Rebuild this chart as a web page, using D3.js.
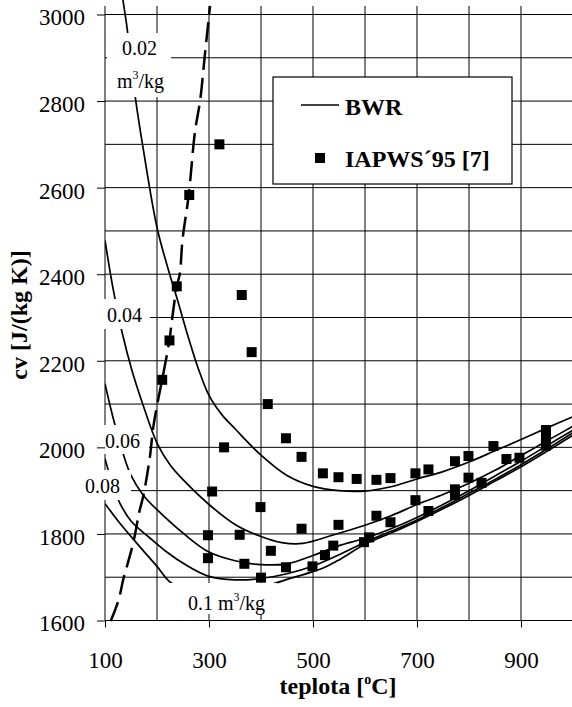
<!DOCTYPE html>
<html>
<head>
<meta charset="utf-8">
<script src="https://cdn.jsdelivr.net/npm/d3@7"></script>
<style>
  body { margin: 0; background: #fff; }
  svg { display: block; }
</style>
</head>
<body>
<script>
// tick values
var xTicks = [100, 300, 500, 700, 900];
var yTicks = [1600, 1800, 2000, 2200, 2400, 2600, 2800, 3000];

// BWR curves, [teplota, cv] for each specific volume
var bwr002 = [[130,3075],[135,3030],[142,2973],[150,2890],[158,2811],[174,2686],[200,2508],[220,2418],[240,2338],
  [260,2255],[280,2180],[300,2120],[325,2075],[350,2043],[400,1982],[450,1935],[500,1910],[550,1900],[600,1899],
  [650,1909],[700,1927],[750,1944],[800,1966],[850,1992],[900,2018],[950,2045],[1000,2071]];
var bwr004 = [[100,2478],[115,2370],[132,2270],[152,2177],[174,2095],[200,2010],[225,1960],[252,1923],[300,1868],
  [350,1822],[400,1794],[440,1780],[480,1778],[540,1798],[600,1820],[650,1842],[700,1868],[750,1891],[800,1917],
  [850,1947],[900,1981],[950,2015],[1000,2049]];
var bwr006 = [[100,2147],[110,2095],[120,2048],[135,1985],[150,1935],[174,1889],[200,1856],[252,1800],[300,1758],
  [350,1738],[400,1729],[450,1731],[500,1750],[550,1773],[600,1790],[650,1812],[700,1838],[750,1868],[800,1900],
  [850,1934],[900,1968],[950,2004],[1000,2040]];
var bwr008 = [[100,1974],[110,1932],[120,1897],[129,1870],[150,1830],[187,1790],[220,1757],[252,1731],[300,1702],
  [350,1694],[400,1697],[450,1708],[500,1726],[550,1752],[600,1781],[650,1806],[700,1832],[750,1862],[800,1894],
  [850,1926],[900,1960],[950,1996],[1000,2034]];
var bwr010 = [[100,1870],[129,1824],[168,1769],[200,1725],[226,1688],[260,1670],[300,1662],[340,1663],[380,1670],
  [432,1688],[450,1695],[500,1713],[523,1723],[550,1740],[600,1776],[650,1802],[700,1829],[750,1858],[800,1889],
  [850,1922],[900,1955],[950,1991],[1000,2028]];

// saturation boundary (dashed)
var saturace = [[111,1599],[126,1647],[135,1694],[154,1778],[166,1851],[174,1890],[186,1975],[193,2048],[202,2109],
  [210,2157],[224,2248],[228,2287],[238,2371],[244,2402],[249,2479],[261,2583],[273,2729],[283,2802],[292,2906],[302,3020]];

// IAPWS'95 [7] points
var iapws = [[210,2156],[224,2247],[238,2372],[262,2583],[320,2700],
  [363,2352],[382,2220],[413,2100],[448,2021],[478,1978],[519,1940],[549,1931],[584,1927],[622,1925],[649,1929],
  [697,1940],[722,1949],[773,1968],[799,1980],[847,2003],[872,1973],[897,1976],
  [948,2040],[948,2025],[948,2012],[948,2004],
  [329,2000],[306,1898],[399,1862],[298,1797],[359,1798],[419,1761],[298,1744],[368,1731],[400,1699],[448,1723],
  [478,1812],[549,1821],[622,1842],[649,1827],[697,1878],[722,1853],[773,1903],[773,1890],[799,1930],[824,1918],
  [499,1725],[523,1751],[539,1773],[598,1781],[608,1792]];

var FONT = "'Liberation Serif','Times New Roman',Times,serif";

var svg = d3.select("body").append("svg")
  .attr("width", 572)
  .attr("height", 707);

var x = d3.scaleLinear().domain([100, 1000]).range([105, 573]);
var y = d3.scaleLinear().domain([1600, 3000]).range([620.5, 14.5]);
var plotTop = 6;

// grid
var grid = svg.append("g").attr("stroke", "#000").attr("stroke-width", 1);
grid.selectAll("line.v").data(d3.range(100, 1001, 100)).enter().append("line")
  .attr("x1", d => x(d)).attr("x2", d => x(d))
  .attr("y1", plotTop).attr("y2", y(1600));
grid.selectAll("line.h").data(d3.range(1600, 3001, 100)).enter().append("line")
  .attr("x1", x(100)).attr("x2", x(1000))
  .attr("y1", d => y(d)).attr("y2", d => y(d));

svg.append("clipPath").attr("id", "plot")
  .append("rect").attr("x", 105).attr("y", 0).attr("width", 468).attr("height", 621);

var line = d3.line().x(d => x(d[0])).y(d => y(d[1])).curve(d3.curveCatmullRom);

var curves = svg.append("g").attr("clip-path", "url(#plot)");
[bwr002, bwr004, bwr006, bwr008, bwr010].forEach(function(c) {
  curves.append("path").datum(c)
    .attr("d", line)
    .attr("fill", "none")
    .attr("stroke", "#000")
    .attr("stroke-width", 1.7);
});
svg.append("path").datum(saturace)
  .attr("d", line)
  .attr("fill", "none")
  .attr("stroke", "#000")
  .attr("stroke-width", 2.5)
  .attr("stroke-dasharray", "20,8");

// curve labels with white background
var labels = [
  {box: [107, 33, 64, 64], lines: [{t: "0.02", x: 122, y: 55}, {t: "m", sup: "3", rest: "/kg", x: 117, y: 88}]},
  {box: [104, 299, 46, 30], lines: [{t: "0.04", x: 107, y: 322}]},
  {box: [103, 425, 46, 29], lines: [{t: "0.06", x: 105, y: 448}]},
  {box: [80, 470, 51, 30], lines: [{t: "0.08", x: 85, y: 493}]},
  {box: [170, 583, 107, 31], lines: [{t: "0.1 m", sup: "3", rest: "/kg", x: 188, y: 610}]}
];
labels.forEach(function(l) {
  svg.append("rect").attr("x", l.box[0]).attr("y", l.box[1])
    .attr("width", l.box[2]).attr("height", l.box[3]).attr("fill", "#fff");
  l.lines.forEach(function(s) {
    var t = svg.append("text").attr("x", s.x).attr("y", s.y)
      .attr("font-family", FONT).attr("font-size", 20).attr("fill", "#000");
    t.append("tspan").text(s.t);
    if (s.sup) {
      t.append("tspan").attr("font-size", 12).attr("dy", -9).text(s.sup);
      t.append("tspan").attr("dy", 9).text(s.rest);
    }
  });
});

// IAPWS points
svg.append("g").selectAll("rect").data(iapws).enter().append("rect")
  .attr("x", d => x(d[0]) - 5)
  .attr("y", d => y(d[1]) - 5)
  .attr("width", 10).attr("height", 10)
  .attr("fill", "#000");

// legend
var lg = svg.append("g");
lg.append("rect").attr("x", 273).attr("y", 77).attr("width", 239).attr("height", 107)
  .attr("fill", "#fff").attr("stroke", "#000").attr("stroke-width", 1.2);
lg.append("line").attr("x1", 301).attr("x2", 339).attr("y1", 105).attr("y2", 105)
  .attr("stroke", "#000").attr("stroke-width", 1.7);
lg.append("rect").attr("x", 315).attr("y", 153).attr("width", 10).attr("height", 10).attr("fill", "#000");
lg.append("text").attr("x", 345).attr("y", 115).attr("font-family", FONT).attr("font-size", 24)
  .attr("font-weight", "bold").text("BWR");
lg.append("text").attr("x", 345).attr("y", 167).attr("font-family", FONT).attr("font-size", 24)
  .attr("font-weight", "bold").text("IAPWS\u00B495 [7]");

// axes
var yAxis = svg.append("g").attr("transform", "translate(105,0)")
  .call(d3.axisLeft(y).tickValues(yTicks).tickFormat(d3.format("d"))
    .tickSize(8).tickSizeOuter(0).tickPadding(12));
yAxis.select(".domain").remove();
yAxis.attr("font-family", FONT).attr("font-size", 23);
yAxis.selectAll("text").attr("dy", "0.45em").attr("fill", "#000");

var xAxis = svg.append("g").attr("transform", "translate(0," + y(1600) + ")")
  .call(d3.axisBottom(x).tickValues(xTicks).tickFormat(d3.format("d"))
    .tickSize(7).tickSizeOuter(0).tickPadding(24));
xAxis.select(".domain").remove();
xAxis.attr("font-family", FONT).attr("font-size", 23);
xAxis.selectAll("text").attr("fill", "#000");

// axis titles
var xt = svg.append("text").attr("x", 338).attr("y", 694).attr("text-anchor", "middle")
  .attr("font-family", FONT).attr("font-size", 24).attr("font-weight", "bold");
xt.append("tspan").text("teplota [");
xt.append("tspan").attr("font-size", 14).attr("dy", -10).text("o");
xt.append("tspan").attr("dy", 10).text("C]");

svg.append("text").attr("transform", "translate(27,315) rotate(-90)")
  .attr("text-anchor", "middle")
  .attr("font-family", FONT).attr("font-size", 24).attr("font-weight", "bold")
  .text("cv [J/(kg K)]");
</script>
</body>
</html>
